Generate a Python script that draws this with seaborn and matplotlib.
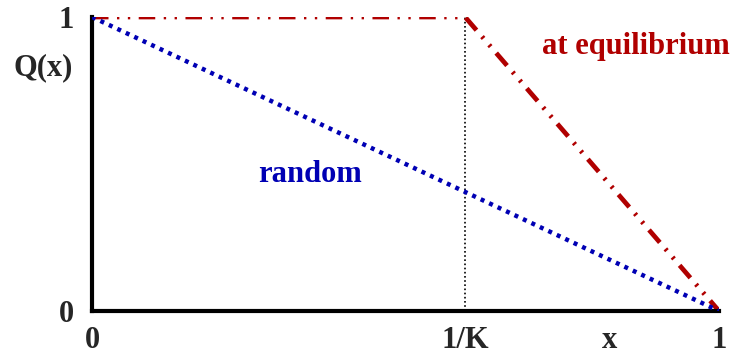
import matplotlib
matplotlib.use("Agg")
import matplotlib.pyplot as plt
import seaborn as sns
import pandas as pd

# ============================================================
# data
# ============================================================
inv_k = 0.595

random_x = [0.0, 1.0]
random_q = [1.0, 0.0]

equil_x = [0.0, inv_k, 1.0]
equil_q = [1.0, 1.0, 0.0]

x_ticks = [0.0, inv_k, 1.0]
x_tick_labels = ["0", "1/K", "1"]
y_ticks = [0.0, 1.0]
y_tick_labels = ["0", "1"]

red = "#b00000"
blue = "#0000b4"

sns.set_style("white")
plt.rcParams["font.family"] = ["Liberation Serif", "DejaVu Serif"]
plt.rcParams["font.weight"] = "bold"

df_random = pd.DataFrame({"x": random_x, "q": random_q})
df_equil = pd.DataFrame({"x": equil_x, "q": equil_q})

fig = plt.figure(figsize=(7.34, 3.54), dpi=100)
ax = fig.add_axes([0.1253, 0.1215, 0.9796 - 0.1253, 0.952 - 0.1215])

# vertical guide at 1/K
ax.plot([inv_k, inv_k], [0, 1], color="black", lw=1.2, ls=(0, (1, 1.5)), zorder=1)

sns.lineplot(data=df_random, x="x", y="q", ax=ax, color=blue, lw=3.2,
             linestyle=(0, (0.9, 1.2)), estimator=None, sort=False, zorder=3)
sns.lineplot(data=df_equil, x="x", y="q", ax=ax, color=red, lw=3.4,
             linestyle=(0, (3.5, 1.8, 0.5, 1.8, 0.5, 1.8)), estimator=None,
             sort=False, zorder=2)

ax.set_xlim(0, 1)
ax.set_ylim(0, 1)
ax.set_xticks(x_ticks)
ax.set_xticklabels(x_tick_labels)
ax.set_yticks(y_ticks)
ax.set_yticklabels(y_tick_labels)
ax.tick_params(axis="both", length=0, labelsize=22)
ax.tick_params(axis="x", pad=11)
ax.tick_params(axis="y", pad=13)

ax.set_xlabel("")
ax.set_ylabel("Q(x)", rotation=0, fontsize=22, fontweight="bold",
              va="center", ha="center")
ax.yaxis.set_label_coords(-0.077, 0.827)
ax.text(0.826, -0.099, "x", transform=ax.transAxes, fontsize=22,
        fontweight="bold", ha="center", va="center")

ax.text(0.348, 0.463, "random", transform=ax.transAxes, color=blue,
        fontsize=22, fontweight="bold", ha="center", va="center")
ax.text(0.868, 0.898, "at equilibrium", transform=ax.transAxes, color=red,
        fontsize=22, fontweight="bold", ha="center", va="center")

for side in ["top", "right"]:
    ax.spines[side].set_visible(False)
for side in ["left", "bottom"]:
    ax.spines[side].set_linewidth(3)
    ax.spines[side].set_color("black")

for lab in ax.get_xticklabels() + ax.get_yticklabels():
    lab.set_fontweight("bold")

fig.savefig("out.png", dpi=100)
